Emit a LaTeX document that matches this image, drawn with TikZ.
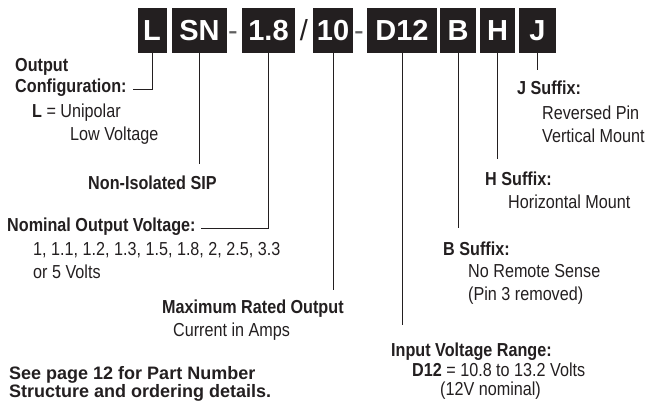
\documentclass[tikz,border=0pt]{standalone}
\usepackage{fontspec}
\setmainfont{Liberation Sans}
\newfontfamily\narrowfont{Liberation Sans}[FakeStretch=0.86]
\usepackage{xcolor}
\usepackage{tikz}
\definecolor{pnblack}{RGB}{35,31,32}
\definecolor{pngray}{RGB}{95,95,95}

\tikzset{
    codebox/.style={fill=pnblack, text=white, inner sep=0pt, minimum height=45pt,
        font=\fontsize{29}{29}\selectfont\bfseries},
    sepchar/.style={anchor=base, inner sep=0pt, text=pngray,
        font=\fontsize{29}{29}\selectfont},
    lbl/.style={anchor=base west, inner sep=0pt, text=pnblack,
        font=\narrowfont\fontsize{18.8}{21}\selectfont},
    lblb/.style={lbl, font=\narrowfont\fontsize{18.8}{21}\selectfont\bfseries},
    note/.style={anchor=base west, inner sep=0pt, text=pnblack,
        font=\fontsize{18}{21}\selectfont\bfseries},
    lead/.style={draw=pnblack, line width=0.8pt},
}

\begin{document}
\begin{tikzpicture}[x=1pt, y=-1pt]
    \useasboundingbox (0,0) rectangle (647,407);

    % part number boxes
    \node[codebox, minimum width=29pt] (bL)   at (152,30.5)   {L};
    \node[codebox, minimum width=55pt] (bSN)  at (199.5,30.5) {SN};
    \node[sepchar]                     (s1)   at (233,40)     {-};
    \node[codebox, minimum width=53pt] (b18)  at (268.5,30.5) {1.8};
    \node[sepchar, text=pnblack]       (s2)   at (304,40)     {/};
    \node[codebox, minimum width=40pt] (b10)  at (333,30.5)   {10};
    \node[sepchar]                     (s3)   at (359,40)     {-};
    \node[codebox, minimum width=70pt] (bD12) at (402,30.5)   {D12};
    \node[codebox, minimum width=36pt] (bB)   at (458,30.5)   {B};
    \node[codebox, minimum width=35pt] (bH)   at (497.5,30.5) {H};
    \node[codebox, minimum width=37pt] (bJ)   at (537.5,30.5) {J};

    % left side labels
    \node[lblb] (cfg1) at (15,71)  {Output};
    \node[lblb] (cfg2) at (15,92)  {Configuration:};
    \node[lbl]  (cfg3) at (32,117) {\textbf{L} = Unipolar};
    \node[lbl]  (cfg4) at (70,140) {Low Voltage};

    \node[lblb] (nis) at (88,189) {Non-Isolated SIP};

    \node[lblb] (nov1) at (7,231)  {Nominal Output Voltage:};
    \node[lbl]  (nov2) at (33,255) {1, 1.1, 1.2, 1.3, 1.5, 1.8, 2, 2.5, 3.3};
    \node[lbl]  (nov3) at (33,278) {or 5 Volts};

    \node[lblb] (mro1) at (162,313) {Maximum Rated Output};
    \node[lbl]  (mro2) at (173,336) {Current in Amps};

    \node[note] (see1) at (9,379) {See page 12 for Part Number};
    \node[note] (see2) at (9,397) {Structure and ordering details.};

    % right side labels
    \node[lblb] (ivr1) at (391,356) {Input Voltage Range:};
    \node[lbl]  (ivr2) at (412,376) {\textbf{D12} = 10.8 to 13.2 Volts};
    \node[lbl]  (ivr3) at (440,395) {(12V nominal)};

    \node[lblb] (bsf1) at (443,255) {B Suffix:};
    \node[lbl]  (bsf2) at (468,277) {No Remote Sense};
    \node[lbl]  (bsf3) at (468,300) {(Pin 3 removed)};

    \node[lblb] (hsf1) at (485,185) {H Suffix:};
    \node[lbl]  (hsf2) at (508,208) {Horizontal Mount};

    \node[lblb] (jsf1) at (517,94)  {J Suffix:};
    \node[lbl]  (jsf2) at (542,119) {Reversed Pin};
    \node[lbl]  (jsf3) at (542,142) {Vertical Mount};

    % leader lines
    \coordinate (snend)  at (199.5,164);
    \coordinate (tenend) at (333,290);
    \coordinate (d12end) at (402,325);
    \coordinate (bend)   at (458,228);
    \coordinate (hend)   at (497.5,159);
    \coordinate (jend)   at (537.5,70);

    \draw[lead] (bL.south) |- ([xshift=6pt]cfg2.mid east);
    \draw[lead] (bSN.south) -- (snend);
    \draw[lead] (b18.south) |- ([xshift=5pt]nov1.mid east);
    \draw[lead] (b10.south) -- (tenend);
    \draw[lead] (bD12.south) -- (d12end);
    \draw[lead] (bB.south) -- (bend);
    \draw[lead] (bH.south) -- (hend);
    \draw[lead] (bJ.south) -- (jend);
\end{tikzpicture}
\end{document}
